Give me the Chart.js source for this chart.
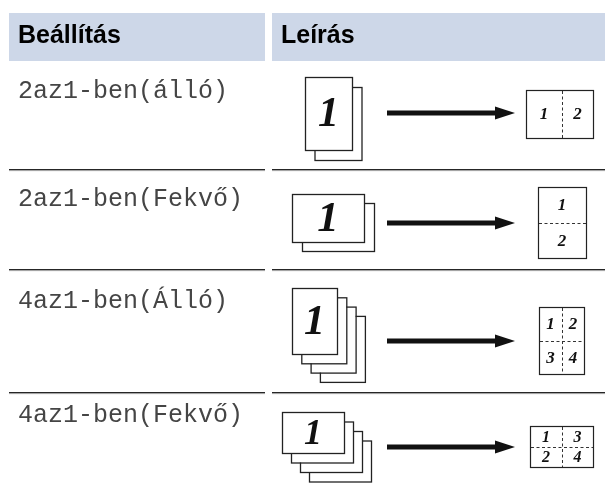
<!DOCTYPE html>
<html>
<head>
<meta charset="utf-8">
<script src="https://cdn.jsdelivr.net/npm/chart.js@4/dist/chart.umd.min.js"></script>
<style>
  html, body { margin: 0; padding: 0; background: #ffffff; }
  #wrap { width: 605px; height: 483px; position: relative; }
</style>
</head>
<body>
<div id="wrap"><canvas id="c" width="605" height="483"></canvas></div>
<script>
// ---- data ----
const headers = ['Beállítás', 'Leírás'];
const settings = ['2az1-ben(álló)', '2az1-ben(Fekvő)', '4az1-ben(Álló)', '4az1-ben(Fekvő)'];
const sheetCounts = [2, 2, 4, 4];
const orientations = ['portrait', 'landscape', 'portrait', 'landscape'];
const sourcePageLabel = ['1', '1', '1', '1'];
// numbers on the result sheet, row by row of the sheet's grid
const resultGrids = [
  [['1', '2']],
  [['1'], ['2']],
  [['1', '2'], ['3', '4']],
  [['1', '3'], ['2', '4']]
];

// ---- layout (positions / sizes / styles) ----
const W = 605, H = 483;
const headerTop = 13, headerBottom = 61;
const colLeft = [9, 272], colRight = [265, 605];
const headerTextX = [18, 281], headerBaseline = 43;
const separators = [169, 269, 392];
const labelBaselines = [98, 206, 308, 422];
const labelX = 18;
// source stack: front page rect [x, y, w, h], offset [dx, dy], big digit size
const stacks = [
  { x: 305, y: 77, w: 47, h: 73, dx: 9.5, dy: 10, fs: 42 },
  { x: 292, y: 194, w: 72, h: 48, dx: 10, dy: 9, fs: 43 },
  { x: 292, y: 288, w: 45, h: 66, dx: 9.3, dy: 9.3, fs: 42 },
  { x: 282, y: 412, w: 62, h: 41, dx: 9, dy: 9.5, fs: 36 }
];
const arrowY = [113, 223, 341, 447];
const arrowX0 = 387, arrowX1 = 515, arrowHead = 20, arrowHalf = 6.5, shaft = 5;
// result sheet rect and divider positions
const results = [
  { x: 526, y: 90, w: 67, h: 48, vx: 562, hy: null, fs: 17 },
  { x: 538, y: 187, w: 48, h: 71, vx: null, hy: 223, fs: 17 },
  { x: 539, y: 307, w: 45, h: 67, vx: 562, hy: 341, fs: 17 },
  { x: 530, y: 426, w: 63, h: 41, vx: 562, hy: 447, fs: 16 }
];

const tablePlugin = {
  id: 'tablePlugin',
  beforeDraw(chart) {
    const ctx = chart.ctx;
    ctx.save();
    ctx.fillStyle = '#ffffff';
    ctx.fillRect(0, 0, chart.width, chart.height);
    ctx.restore();
  },
  afterDraw(chart) {
    const ctx = chart.ctx;
    const sx = chart.scales.x, sy = chart.scales.y;
    const X = v => sx.getPixelForValue(v);
    const Y = v => sy.getPixelForValue(v);
    ctx.save();

    // header boxes
    ctx.fillStyle = '#cdd7e8';
    for (let i = 0; i < headers.length; i++) {
      ctx.fillRect(X(colLeft[i]), Y(headerTop), X(colRight[i]) - X(colLeft[i]), Y(headerBottom) - Y(headerTop));
    }
    ctx.fillStyle = '#000000';
    ctx.font = 'bold 25px "Liberation Sans", Arial, sans-serif';
    ctx.textBaseline = 'alphabetic';
    ctx.textAlign = 'left';
    headers.forEach((h, i) => ctx.fillText(h, X(headerTextX[i]), Y(headerBaseline)));

    // separators
    separators.forEach(yv => {
      for (let i = 0; i < 2; i++) {
        ctx.fillStyle = '#262626';
        ctx.fillRect(X(colLeft[i]), Y(yv), X(colRight[i]) - X(colLeft[i]), 1.2);
        ctx.fillStyle = '#9a9a9a';
        ctx.fillRect(X(colLeft[i]), Y(yv) + 1.2, X(colRight[i]) - X(colLeft[i]), 0.9);
      }
    });

    // setting labels
    ctx.fillStyle = '#454545';
    ctx.font = '25px "Liberation Mono", "Courier New", monospace';
    settings.forEach((s, i) => ctx.fillText(s, X(labelX), Y(labelBaselines[i])));

    // source stacks
    for (let r = 0; r < settings.length; r++) {
      const st = stacks[r];
      ctx.lineWidth = 1.3;
      ctx.strokeStyle = '#222222';
      for (let k = sheetCounts[r] - 1; k >= 0; k--) {
        const x0 = X(st.x + k * st.dx), y0 = Y(st.y + k * st.dy);
        const x1 = X(st.x + k * st.dx + st.w), y1 = Y(st.y + k * st.dy + st.h);
        ctx.fillStyle = '#ffffff';
        ctx.fillRect(x0, y0, x1 - x0, y1 - y0);
        ctx.strokeRect(x0 + 0.5, y0 + 0.5, x1 - x0, y1 - y0);
      }
      ctx.fillStyle = '#111111';
      ctx.font = 'bold italic ' + st.fs + 'px "Liberation Serif", "Times New Roman", serif';
      ctx.textAlign = 'center';
      ctx.textBaseline = 'middle';
      ctx.fillText(sourcePageLabel[r], X(st.x + st.w / 2), Y(st.y + st.h / 2) + 2);

      // arrow
      const ay = Y(arrowY[r]);
      ctx.fillStyle = '#111111';
      ctx.fillRect(X(arrowX0), ay - shaft / 2, X(arrowX1 - arrowHead) - X(arrowX0) + 1, shaft);
      ctx.beginPath();
      ctx.moveTo(X(arrowX1 - arrowHead), ay - arrowHalf);
      ctx.lineTo(X(arrowX1), ay);
      ctx.lineTo(X(arrowX1 - arrowHead), ay + arrowHalf);
      ctx.closePath();
      ctx.fill();

      // result sheet
      const rs = results[r];
      const rx0 = X(rs.x), ry0 = Y(rs.y), rx1 = X(rs.x + rs.w), ry1 = Y(rs.y + rs.h);
      ctx.fillStyle = '#ffffff';
      ctx.fillRect(rx0, ry0, rx1 - rx0, ry1 - ry0);
      ctx.lineWidth = 1.2;
      ctx.strokeStyle = '#222222';
      ctx.strokeRect(rx0 + 0.5, ry0 + 0.5, rx1 - rx0, ry1 - ry0);
      ctx.setLineDash([3, 2.5]);
      ctx.lineWidth = 1;
      ctx.strokeStyle = '#333333';
      if (rs.vx !== null) {
        ctx.beginPath();
        ctx.moveTo(X(rs.vx) + 0.5, ry0 + 1);
        ctx.lineTo(X(rs.vx) + 0.5, ry1);
        ctx.stroke();
      }
      if (rs.hy !== null) {
        ctx.beginPath();
        ctx.moveTo(rx0 + 1, Y(rs.hy) + 0.5);
        ctx.lineTo(rx1, Y(rs.hy) + 0.5);
        ctx.stroke();
      }
      ctx.setLineDash([]);

      // numbers on result sheet
      const grid = resultGrids[r];
      const nRows = grid.length, nCols = grid[0].length;
      const colBounds = nCols === 1 ? [rs.x, rs.x + rs.w] : [rs.x, rs.vx, rs.x + rs.w];
      const rowBounds = nRows === 1 ? [rs.y, rs.y + rs.h] : [rs.y, rs.hy, rs.y + rs.h];
      ctx.fillStyle = '#111111';
      ctx.font = 'bold italic ' + rs.fs + 'px "Liberation Serif", "Times New Roman", serif';
      for (let gi = 0; gi < nRows; gi++) {
        for (let gj = 0; gj < nCols; gj++) {
          const cx = (colBounds[gj] + colBounds[gj + 1]) / 2;
          const cy = (rowBounds[gi] + rowBounds[gi + 1]) / 2;
          ctx.fillText(grid[gi][gj], X(cx), Y(cy) + 1);
        }
      }
      ctx.textAlign = 'left';
      ctx.textBaseline = 'alphabetic';
    }
    ctx.restore();
  }
};

new Chart(document.getElementById('c'), {
  type: 'scatter',
  data: { datasets: [{ data: [], pointRadius: 0 }] },
  options: {
    responsive: false,
    animation: false,
    devicePixelRatio: 1,
    layout: { padding: 0 },
    plugins: { legend: { display: false }, tooltip: { enabled: false } },
    scales: {
      x: { type: 'linear', min: 0, max: W, display: false },
      y: { type: 'linear', min: 0, max: H, reverse: true, display: false }
    }
  },
  plugins: [tablePlugin]
});
</script>
</body>
</html>
